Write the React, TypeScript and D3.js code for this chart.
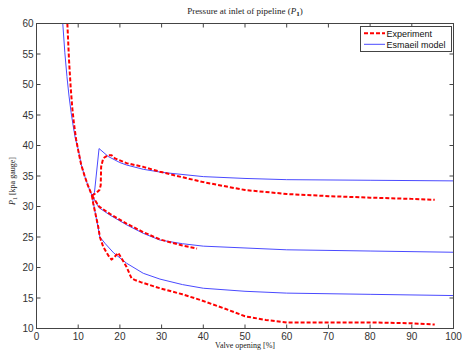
import React from "react";
import * as d3 from "d3";

// Shared descending branch (all three runs start here)
const commonModelX = [6.3, 6.8, 7.3, 7.8, 8.3, 8.8, 9.3, 10.0, 10.7, 11.5, 12.3, 13.3];
const commonModelY = [60, 55.2, 51.3, 48.1, 45.4, 43.2, 41.2, 39.4, 36.9, 35.1, 33.5, 31.8];
const commonExpX = [7.4, 7.8, 8.2, 8.6, 9.0, 9.5, 10.0, 10.7, 11.5, 12.3, 13.3];
const commonExpY = [60, 54, 49.5, 46, 43.5, 41, 39.2, 36.9, 35.1, 33.5, 31.8];

// Run A (upper)
const modelAX = [13.3, 13.9, 15.0, 17.2, 20, 21.6, 25.6, 30, 40, 50, 60, 80, 100];
const modelAY = [31.8, 32.3, 39.5, 38.2, 37.2, 36.8, 36.1, 35.6, 34.9, 34.6, 34.4, 34.3, 34.2];
const expAX = [13.3, 14.3, 15.1, 15.4, 15.5, 16.0, 17.1, 18.0, 18.8, 21.6, 25.6, 29.6, 35, 40, 50, 60, 70, 80, 90, 95.5];
const expAY = [31.8, 32.2, 32.7, 33.5, 36.5, 37.9, 38.4, 38.4, 37.9, 37.1, 36.5, 35.7, 34.8, 34.0, 32.7, 32.05, 31.7, 31.45, 31.25, 31.1];

// Run B (middle)
const modelBX = [13.3, 15, 17.6, 21.6, 25.6, 29.6, 35, 40, 50, 60, 80, 100];
const modelBY = [31.8, 29.8, 28.6, 27.0, 25.6, 24.5, 23.9, 23.5, 23.2, 22.9, 22.7, 22.5];
const expBX = [13.3, 15, 17.6, 21.6, 25.6, 29.6, 35, 38.5];
const expBY = [31.8, 30.0, 28.8, 27.2, 25.8, 24.6, 23.6, 23.1];

// Run C (lower)
const modelCX = [13.3, 15.2, 16.5, 18.5, 21.6, 25.6, 29.6, 35, 40, 50, 60, 80, 100];
const modelCY = [31.8, 25.0, 23.9, 22.4, 20.7, 19.05, 18.1, 17.2, 16.6, 16.1, 15.8, 15.6, 15.4];
const expCX = [13.3, 13.6, 14.8, 15.2, 16.0, 17.2, 18.0, 18.8, 19.6, 20.4, 21.6, 22.8, 23.8, 25, 29.6, 35, 39.2, 45, 50, 55, 60, 70, 80, 90, 95.5];
const expCY = [31.8, 30.5, 26.7, 25.0, 23.4, 22.0, 21.3, 21.8, 22.4, 21.5, 20.1, 18.2, 17.9, 17.6, 16.6, 15.6, 14.7, 13.3, 12.0, 11.4, 11.0, 11.0, 11.0, 10.85, 10.65];

const xTicks = [0, 10, 20, 30, 40, 50, 60, 70, 80, 90, 100];
const yTicks = [10, 15, 20, 25, 30, 35, 40, 45, 50, 55, 60];
const legendLabels = ["Experiment", "Esmaeil model"];

const W = 462;
const H = 354;
const left = 36.5;
const right = 453.5;
const top = 23.5;
const bottom = 328.5;

const zip = (xs: number[], ys: number[]) => xs.map((x, i) => [x, ys[i]] as [number, number]);

export default function App() {
  const x = d3.scaleLinear().domain([0, 100]).range([left, right]);
  const y = d3.scaleLinear().domain([10, 60]).range([bottom, top]);
  const line = d3
    .line<[number, number]>()
    .x((d) => x(d[0]))
    .y((d) => y(d[1]));

  const modelSeries = [
    zip(commonModelX, commonModelY),
    zip(modelAX, modelAY),
    zip(modelBX, modelBY),
    zip(modelCX, modelCY),
  ];
  const expSeries = [
    zip(commonExpX, commonExpY),
    zip(expAX, expAY),
    zip(expBX, expBY),
    zip(expCX, expCY),
  ];

  const blue = "#4a4aff";
  const red = "#ff0000";
  const tickLen = 4;
  const lx = 360.5;
  const ly = 26.5;

  return (
    <svg
      width={W}
      height={H}
      style={{ position: "absolute", left: 0, top: 0, background: "#fff" }}
    >
      <defs>
        <clipPath id="plotclip">
          <rect x={left} y={top} width={right - left} height={bottom - top} />
        </clipPath>
      </defs>

      {/* title */}
      <text
        x={(left + right) / 2}
        y={14}
        textAnchor="middle"
        fontFamily="Liberation Serif, serif"
        fontSize={9}
        fill="#222"
      >
        Pressure at inlet of pipeline (<tspan fontStyle="italic">P</tspan>
        <tspan fontSize={7} dy={2} fontWeight="bold">1</tspan>
        <tspan dy={-2}>)</tspan>
      </text>

      {/* series */}
      <g clipPath="url(#plotclip)" fill="none" strokeLinejoin="round">
        {modelSeries.map((s, i) => (
          <path key={"m" + i} d={line(s) || ""} stroke={blue} strokeWidth={1} />
        ))}
        {expSeries.map((s, i) => (
          <path
            key={"e" + i}
            d={line(s) || ""}
            stroke={red}
            strokeWidth={2}
            strokeDasharray="4,2"
          />
        ))}
      </g>

      {/* axes box */}
      <rect
        x={left}
        y={top}
        width={right - left}
        height={bottom - top}
        fill="none"
        stroke="#444"
        strokeWidth={1}
      />

      {/* x ticks */}
      {xTicks.map((t) => (
        <g key={"xt" + t}>
          <line x1={x(t)} x2={x(t)} y1={bottom} y2={bottom - tickLen} stroke="#444" />
          <line x1={x(t)} x2={x(t)} y1={top} y2={top + tickLen} stroke="#444" />
          <text
            x={x(t)}
            y={bottom + 11}
            textAnchor="middle"
            fontFamily="Liberation Sans, Arial, sans-serif"
            fontSize={10}
            fill="#333"
          >
            {t}
          </text>
        </g>
      ))}

      {/* y ticks */}
      {yTicks.map((t) => (
        <g key={"yt" + t}>
          <line x1={left} x2={left + tickLen} y1={y(t)} y2={y(t)} stroke="#444" />
          <line x1={right} x2={right - tickLen} y1={y(t)} y2={y(t)} stroke="#444" />
          <text
            x={left - 3}
            y={y(t) + 3.5}
            textAnchor="end"
            fontFamily="Liberation Sans, Arial, sans-serif"
            fontSize={10}
            fill="#333"
          >
            {t}
          </text>
        </g>
      ))}

      {/* axis labels */}
      <text
        x={(left + right) / 2}
        y={348}
        textAnchor="middle"
        fontFamily="Liberation Serif, serif"
        fontSize={8}
        fill="#222"
      >
        Valve opening [%]
      </text>
      <text
        transform={`translate(15, ${181}) rotate(-90)`}
        textAnchor="middle"
        fontFamily="Liberation Serif, serif"
        fontSize={8}
        fill="#222"
      >
        <tspan fontStyle="italic">P</tspan>
        <tspan fontSize={6} dy={1.5}>1</tspan>
        <tspan dy={-1.5}> [kpa gauge]</tspan>
      </text>

      {/* legend */}
      <g>
        <rect x={lx} y={ly} width={91} height={25} fill="#fff" stroke="#444" strokeWidth={1} />
        <line
          x1={lx + 3.5}
          x2={lx + 24.5}
          y1={ly + 6.8}
          y2={ly + 6.8}
          stroke={red}
          strokeWidth={2}
          strokeDasharray="4,2"
        />
        <text
          x={lx + 26}
          y={ly + 10}
          fontFamily="Liberation Sans, Arial, sans-serif"
          fontSize={9}
          fill="#111"
        >
          {legendLabels[0]}
        </text>
        <line x1={lx + 3.5} x2={lx + 24.5} y1={ly + 17.8} y2={ly + 17.8} stroke={blue} strokeWidth={1} />
        <text
          x={lx + 26}
          y={ly + 21}
          fontFamily="Liberation Sans, Arial, sans-serif"
          fontSize={9}
          fill="#111"
        >
          {legendLabels[1]}
        </text>
      </g>
    </svg>
  );
}
